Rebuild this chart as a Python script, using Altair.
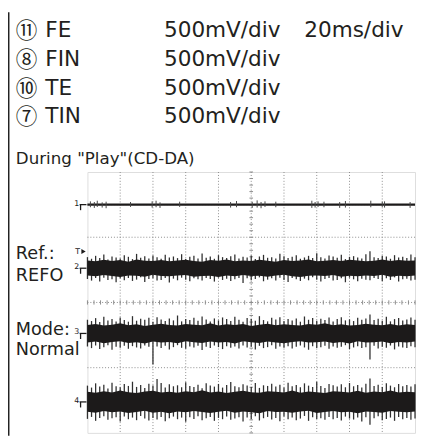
import altair as alt
import numpy as np
import pandas as pd

# ---------------- text ----------------
channel_nums = ["⑪", "⑧", "⑩", "⑦"]
channel_names = ["FE", "FIN", "TE", "TIN"]
volts_div = ["500mV/div", "500mV/div", "500mV/div", "500mV/div"]
time_div = "20ms/div"
panel_title = 'During "Play"(CD-DA)'
side_labels = ["Ref.:", "REFO", "Mode:", "Normal"]

# ---------------- data (time in ms, level in divisions) ----------------
step_ms = 2.5          # peak samples
core_step_ms = 5.0     # dense-core samples
trace_ids = ["1", "2", "3", "4"]
trace_levels = [3.0, 1.05, -0.95, -3.05]

# trace 1 : flat line with small glitches
t1_spike_t = [1.8, 4.2, 6.0, 9.0, 11.4, 26.3, 39.5, 41.9, 44.3, 56.3, 87.4, 91.0, 100.6, 103.6,
              106.0, 108.4, 115.0, 137.0, 139.0, 140.8, 144.4, 154.0, 157.5, 173.0, 180.0, 181.4, 197.0]
t1_spike_up = [0.10, 0.08, 0.12, 0.07, 0.09, 0.08, 0.10, 0.12, 0.07, 0.09, 0.08, 0.11, 0.09, 0.13,
               0.08, 0.10, 0.09, 0.12, 0.08, 0.10, 0.09, 0.08, 0.11, 0.12, 0.09, 0.10, 0.08]
t1_spike_dn = [0.08, 0.10, 0.07, 0.09, 0.11, 0.07, 0.09, 0.08, 0.10, 0.07, 0.09, 0.08, 0.10, 0.09,
               0.11, 0.07, 0.08, 0.10, 0.09, 0.07, 0.08, 0.10, 0.09, 0.08, 0.07, 0.09, 0.10]

# noise peaks (hundredths of a division above / below the trace centre), every 2.5 ms
t2_up = [34, 29, 38, 31, 42, 27, 36, 33, 30, 40,
         35, 28, 44, 32, 37, 30, 39, 34, 29, 41,
         33, 36, 31, 43, 28, 35, 38, 30, 45, 32,
         36, 29, 40, 34, 31, 37, 42, 30, 35, 33,
         39, 28, 36, 41, 32, 34, 30, 44, 37, 31,
         35, 40, 29, 33, 38, 31, 46, 34, 30, 39,
         36, 32, 41, 28, 35, 37, 33, 30, 43, 52,
         34, 31, 38, 36, 29, 40, 33, 35, 31, 42,
         34]
t2_dn = [33, 38, 30, 41, 29, 36, 34, 43, 31, 37,
         30, 39, 35, 28, 42, 33, 31, 38, 36, 30,
         44, 32, 37, 29, 35, 40, 31, 34, 38, 30,
         33, 41, 29, 36, 32, 39, 34, 30, 45, 31,
         37, 33, 28, 40, 35, 31, 38, 29, 36, 42,
         30, 34, 39, 32, 37, 28, 35, 41, 33, 30,
         38, 36, 31, 43, 29, 34, 40, 32, 35, 37,
         30, 33, 39, 31, 36, 28, 41, 34, 32, 38,
         35]
t3_up = [42, 38, 47, 35, 51, 40, 44, 37, 49, 41,
         36, 53, 39, 45, 42, 48, 36, 50, 43, 38,
         46, 40, 55, 37, 44, 41, 48, 39, 52, 43,
         37, 46, 40, 49, 44, 38, 51, 42, 36, 47,
         45, 39, 53, 41, 37, 48, 43, 50, 38, 44,
         40, 46, 36, 52, 42, 47, 39, 45, 41, 49,
         37, 44, 50, 40, 43, 38, 48, 42, 46, 58,
         41, 45, 39, 51, 37, 44, 47, 40, 43, 49,
         42]
t3_dn = [40, 45, 37, 48, 42, 36, 50, 41, 44, 38,
         47, 39, 43, 46, 37, 41, 95, 40, 45, 38,
         49, 42, 36, 44, 47, 40, 43, 38, 51, 41,
         45, 37, 42, 48, 39, 44, 40, 46, 37, 43,
         41, 49, 38, 45, 42, 36, 47, 40, 44, 39,
         46, 41, 37, 43, 50, 39, 45, 42, 38, 47,
         40, 44, 41, 36, 48, 43, 39, 45, 42, 80,
         38, 46, 41, 44, 37, 49, 40, 43, 45, 39,
         42]
t4_up = [50, 44, 57, 47, 53, 41, 59, 48, 45, 55,
         49, 62, 46, 52, 43, 56, 50, 70, 58, 44,
         54, 48, 51, 45, 60, 49, 46, 53, 42, 57,
         50, 47, 55, 44, 52, 61, 48, 45, 54, 50,
         46, 58, 43, 51, 49, 56, 47, 53, 44, 59,
         48, 52, 45, 57, 50, 46, 62, 49, 43, 55,
         51, 47, 54, 45, 58, 48, 52, 44, 56, 72,
         49, 53, 46, 57, 50, 45, 55, 48, 52, 47,
         54]
t4_dn = [52, 46, 58, 49, 44, 55, 50, 47, 60, 45,
         53, 48, 56, 43, 51, 57, 49, 54, 46, 59,
         50, 45, 53, 48, 61, 47, 52, 44, 56, 50,
         46, 58, 49, 53, 45, 55, 51, 47, 60, 48,
         52, 44, 57, 50, 46, 54, 49, 59, 45, 53,
         48, 56, 51, 43, 58, 47, 52, 50, 55, 46,
         53, 49, 57, 45, 51, 54, 48, 60, 47, 70,
         50, 44, 56, 52, 48, 58, 46, 53, 49, 55,
         51]

# dense (solid black) core edges, hundredths of a division, every 5 ms
t2_core_up = [24, 21, 26, 22, 25, 20, 27, 23, 22, 25, 21, 24, 26, 22, 20, 25, 23, 27, 21, 24,
              22, 26, 23, 20, 25, 22, 24, 27, 21, 23, 25, 22, 26, 24, 21, 23, 27, 22, 25, 23, 24]
t2_core_dn = [22, 25, 21, 24, 27, 22, 23, 26, 20, 24, 25, 22, 21, 26, 24, 23, 27, 22, 25, 21,
              24, 23, 26, 22, 20, 25, 27, 23, 22, 24, 21, 26, 23, 25, 22, 24, 20, 26, 23, 25, 22]
t3_core_up = [26, 29, 24, 27, 31, 25, 28, 23, 27, 30, 26, 24, 29, 27, 25, 31, 24, 28, 26, 29,
              23, 27, 30, 25, 28, 26, 24, 29, 27, 31, 25, 28, 24, 26, 30, 27, 25, 29, 24, 28, 26]
t3_core_dn = [28, 25, 30, 26, 24, 29, 27, 31, 25, 28, 26, 30, 24, 27, 29, 25, 28, 26, 31, 24,
              27, 29, 25, 28, 30, 26, 24, 28, 27, 25, 29, 26, 31, 24, 28, 27, 25, 30, 26, 28, 25]
t4_core_up = [31, 28, 33, 29, 35, 30, 27, 32, 34, 29, 31, 28, 33, 30, 36, 29, 32, 27, 31, 34,
              30, 28, 33, 31, 29, 35, 28, 32, 30, 27, 33, 31, 29, 34, 28, 32, 30, 35, 29, 31, 30]
t4_core_dn = [30, 33, 28, 32, 29, 34, 31, 27, 33, 30, 35, 29, 32, 28, 31, 34, 30, 27, 33, 29,
              32, 35, 28, 31, 30, 33, 29, 27, 34, 31, 28, 32, 30, 35, 29, 31, 33, 28, 30, 32, 29]

trigger_level = 1.56

# ---------------- build tables ----------------
XS = alt.Scale(domain=[0, 200], nice=False, zero=False)
YS = alt.Scale(domain=[-4, 4], nice=False, zero=False)
INK = "#1c1a1a"
GRID = "#8c8c8c"
FONT = "DejaVu Sans"

rows = []
for k, (ups, dns) in enumerate([(t2_up, t2_dn), (t3_up, t3_dn), (t4_up, t4_dn)]):
    c = trace_levels[k + 1]
    for i, (u, d) in enumerate(zip(ups, dns)):
        rows.append({"trace": trace_ids[k + 1], "t": i * step_ms,
                     "hi": c + u / 100, "lo": c - d / 100})
noise = pd.DataFrame(rows)

crow = []
for k, (ups, dns) in enumerate([(t2_core_up, t2_core_dn), (t3_core_up, t3_core_dn),
                                (t4_core_up, t4_core_dn)]):
    c = trace_levels[k + 1]
    for i, (u, d) in enumerate(zip(ups, dns)):
        crow.append({"trace": trace_ids[k + 1], "t": i * core_step_ms,
                     "hi": c + u / 100, "lo": c - d / 100})
core = pd.DataFrame(crow)

t1 = pd.DataFrame({"t": t1_spike_t,
                   "hi": [trace_levels[0] + u for u in t1_spike_up],
                   "lo": [trace_levels[0] - d for d in t1_spike_dn]})
t1_line = pd.DataFrame({"a": [0], "b": [200], "v": [trace_levels[0]]})

vgrid = pd.DataFrame({"t": [v for v in np.arange(20, 200, 20) if v != 100]})
hgrid = pd.DataFrame({"v": [v for v in range(-3, 4) if v != 0]})
vtick = pd.DataFrame({"v": np.round(np.arange(-4, 4.01, 0.2), 2), "a": 98.9, "b": 101.1})
htick = pd.DataFrame({"t": np.arange(0, 200.1, 4), "a": -0.065, "b": 0.065})
center = pd.DataFrame({"t": [100], "v": [0]})
gnd = pd.DataFrame({"id": trace_ids, "v": trace_levels,
                    "v2": [l - 0.17 for l in trace_levels]})
trig = pd.DataFrame({"v": [trigger_level], "s": ["T"]})

layers = []
# grid
layers.append(alt.Chart(vgrid).mark_rule(color=GRID, strokeDash=[1, 2], strokeWidth=1)
              .encode(x=alt.X("t:Q", scale=XS, axis=None)))
layers.append(alt.Chart(hgrid).mark_rule(color=GRID, strokeDash=[1, 2], strokeWidth=1)
              .encode(y=alt.Y("v:Q", scale=YS, axis=None)))
layers.append(alt.Chart(center).mark_rule(color=GRID, strokeDash=[1, 2], strokeWidth=1)
              .encode(x=alt.X("t:Q", scale=XS, axis=None)))
layers.append(alt.Chart(center).mark_rule(color=GRID, strokeDash=[1, 2], strokeWidth=1)
              .encode(y=alt.Y("v:Q", scale=YS, axis=None)))
layers.append(alt.Chart(vtick).mark_rule(color=GRID, strokeWidth=1)
              .encode(y=alt.Y("v:Q", scale=YS, axis=None),
                      x=alt.X("a:Q", scale=XS, axis=None), x2="b:Q"))
layers.append(alt.Chart(htick).mark_rule(color=GRID, strokeWidth=1)
              .encode(x=alt.X("t:Q", scale=XS, axis=None),
                      y=alt.Y("a:Q", scale=YS, axis=None), y2="b:Q"))

# trace 1
layers.append(alt.Chart(t1_line).mark_rule(color=INK, strokeWidth=2.2)
              .encode(x=alt.X("a:Q", scale=XS, axis=None), x2="b:Q",
                      y=alt.Y("v:Q", scale=YS, axis=None)))
layers.append(alt.Chart(t1).mark_rule(color="#444", strokeWidth=1)
              .encode(x=alt.X("t:Q", scale=XS, axis=None),
                      y=alt.Y("hi:Q", scale=YS, axis=None), y2="lo:Q"))

# noisy traces: thin peak strokes, then the solid core
layers.append(alt.Chart(noise).mark_rule(color="#303030", strokeWidth=1.3)
              .encode(x=alt.X("t:Q", scale=XS, axis=None),
                      y=alt.Y("hi:Q", scale=YS, axis=None), y2="lo:Q"))
layers.append(alt.Chart(core).mark_area(color=INK, opacity=1, interpolate="linear")
              .encode(x=alt.X("t:Q", scale=XS, axis=None),
                      y=alt.Y("hi:Q", scale=YS, axis=None), y2="lo:Q",
                      detail="trace:N"))

# ground markers
layers.append(alt.Chart(gnd).mark_text(font=FONT, fontSize=8, color=INK, align="center",
                                       baseline="middle", dy=-1)
              .encode(x=alt.value(-11), y=alt.Y("v:Q", scale=YS, axis=None), text="id:N"))
layers.append(alt.Chart(gnd).mark_rule(color=INK, strokeWidth=1.3)
              .encode(x=alt.value(-8), x2=alt.value(-1), y=alt.Y("v:Q", scale=YS, axis=None)))
layers.append(alt.Chart(gnd).mark_rule(color=INK, strokeWidth=1.3)
              .encode(x=alt.value(-7), y=alt.Y("v:Q", scale=YS, axis=None), y2="v2:Q"))
# trigger marker
layers.append(alt.Chart(trig).mark_text(font=FONT, fontSize=8, color=INK, align="center",
                                        baseline="middle")
              .encode(x=alt.value(-10), y=alt.Y("v:Q", scale=YS, axis=None), text="s:N"))
layers.append(alt.Chart(trig).mark_point(shape="triangle-right", filled=True, color=INK,
                                         size=26, opacity=1)
              .encode(x=alt.value(-4), y=alt.Y("v:Q", scale=YS, axis=None)))

# frame line on the far left
layers.append(alt.Chart(center).mark_rule(color="#222", strokeWidth=3)
              .encode(x=alt.value(-81), y=alt.value(-163), y2=alt.value(269)))


def label(s, x, y, size, font=FONT):
    return (alt.Chart(pd.DataFrame({"s": [s]}))
            .mark_text(font=font, fontSize=size, color="#231f20", align="left", baseline="middle")
            .encode(x=alt.value(x), y=alt.value(y), text="s:N"))


row_y = [-145, -115.5, -86, -57]
for i in range(4):
    layers.append(label(channel_nums[i], -73, row_y[i] + 1, 22, "Noto Sans CJK JP"))
    layers.append(label(channel_names[i], -43, row_y[i], 22))
    layers.append(label(volts_div[i], 78, row_y[i], 22))
layers.append(label(time_div, 221, row_y[0], 22))
layers.append(label(panel_title, -73, -13, 17))
for s, y in zip(side_labels, [84, 106, 161, 182]):
    layers.append(label(s, -73, y, 18))

chart = (alt.layer(*layers)
         .properties(width=334, height=266,
                     padding={"left": 81, "top": 163, "right": 1, "bottom": 3},
                     autosize=alt.AutoSizeParams(type="none"))
         .configure_view(stroke="#9a9a9a", strokeWidth=2)
         .configure(background="white"))

chart.save("out.html", embed_options={"renderer": "svg", "actions": False})
